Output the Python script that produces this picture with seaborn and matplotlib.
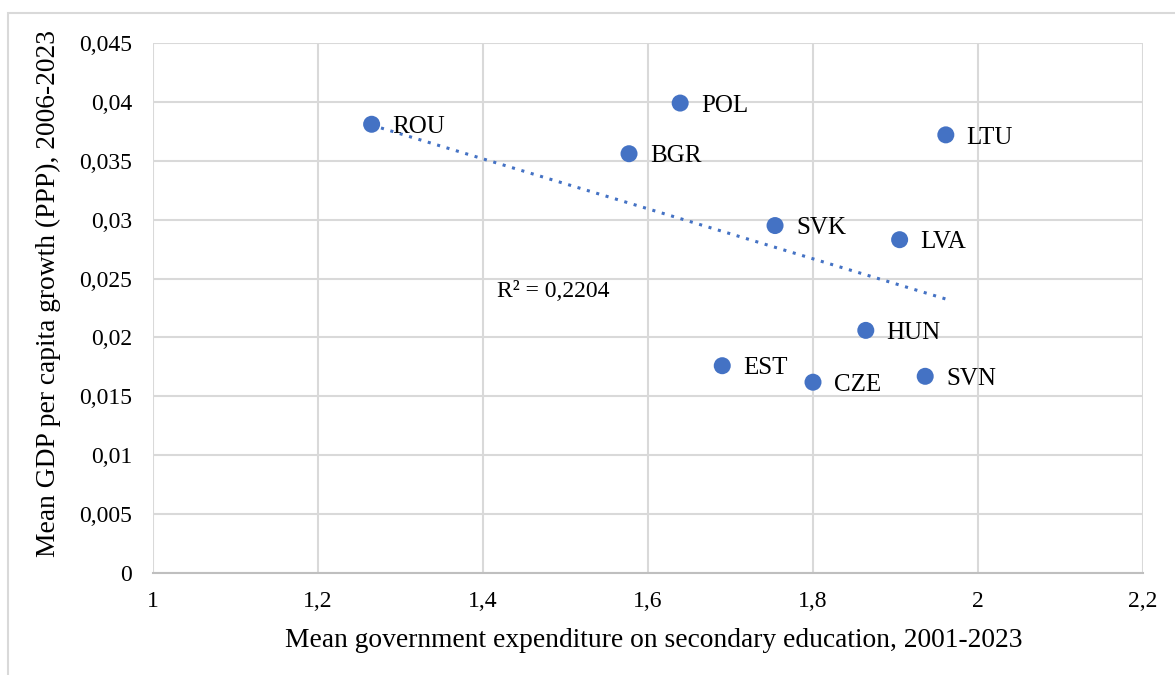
import numpy as np
import pandas as pd
import matplotlib
matplotlib.use("Agg")
import matplotlib.pyplot as plt
from matplotlib.patches import Rectangle
from matplotlib.ticker import FuncFormatter
import seaborn as sns

# Country codes and their means
countries = ["ROU", "POL", "BGR", "LTU", "SVK", "LVA", "HUN", "EST", "CZE", "SVN"]
edu_spending = [1.265, 1.639, 1.577, 1.961, 1.754, 1.905, 1.864, 1.690, 1.800, 1.936]
gdp_growth = [0.0381, 0.0399, 0.0356, 0.0372, 0.0295, 0.0283, 0.0206, 0.0176, 0.0162, 0.0167]
r_squared_label = "R² = 0,2204"

x_ticks = [1, 1.2, 1.4, 1.6, 1.8, 2, 2.2]
y_ticks = [0, 0.005, 0.01, 0.015, 0.02, 0.025, 0.03, 0.035, 0.04, 0.045]

df = pd.DataFrame({"country": countries, "edu": edu_spending, "gdp": gdp_growth})

sns.set_theme(style="white")
plt.rcParams["font.family"] = ["Liberation Serif", "DejaVu Serif"]

POINT = "#4472c4"
GRID = "#d9d9d9"

fig = plt.figure(figsize=(11.75, 6.75), dpi=100)
ax = fig.add_axes([153 / 1175, 1 - 573 / 675, (1143 - 153) / 1175, (573 - 43) / 675])

# Outer chart frame
fig.add_artist(Rectangle((8 / 1175, -0.05), 1.2, 1 - 13 / 675 + 0.05,
                         transform=fig.transFigure, fill=False,
                         edgecolor=GRID, linewidth=1.5, zorder=0))

sns.regplot(data=df, x="edu", y="gdp", ax=ax, scatter=False, ci=None,
            truncate=True,
            line_kws={"color": POINT, "linestyle": (0, (1, 2.2)), "linewidth": 2.2})
sns.scatterplot(data=df, x="edu", y="gdp", ax=ax, color=POINT, s=150,
                edgecolor="none", zorder=5)

for c, xv, yv in zip(countries, edu_spending, gdp_growth):
    ax.annotate(c, (xv, yv), xytext=(15, -2), textcoords="offset points",
                ha="left", va="center", fontsize=18, color="#000000")

ax.text(1.4166, 0.02394, r_squared_label, ha="left", va="center",
        fontsize=17, color="#000000")

ax.set_xlim(1, 2.2)
ax.set_ylim(0, 0.045)
ax.set_xticks(x_ticks)
ax.set_yticks(y_ticks)

def comma_fmt(v, pos):
    s = f"{v:.3f}".rstrip("0").rstrip(".")
    return s.replace(".", ",")

ax.xaxis.set_major_formatter(FuncFormatter(comma_fmt))
ax.yaxis.set_major_formatter(FuncFormatter(comma_fmt))
ax.tick_params(axis="both", labelsize=17, colors="#000000", length=0)
ax.tick_params(axis="x", pad=13)
ax.tick_params(axis="y", pad=15)

ax.grid(True, color=GRID, linewidth=1.5)
ax.set_axisbelow(True)
for side in ["top", "right", "left"]:
    ax.spines[side].set_visible(False)
ax.spines["bottom"].set_color("#bfbfbf")
ax.spines["bottom"].set_linewidth(1.5)

ax.set_xlabel("Mean government expenditure on secondary education, 2001-2023",
              fontsize=19.8, color="#000000", va="center")
ax.set_ylabel("Mean GDP per capita growth (PPP), 2006-2023",
              fontsize=19.8, color="#000000", va="center")
ax.xaxis.set_label_coords(0.5056, -0.127)
ax.yaxis.set_label_coords(-0.106, 0.527)

fig.savefig("out.png", dpi=100)
